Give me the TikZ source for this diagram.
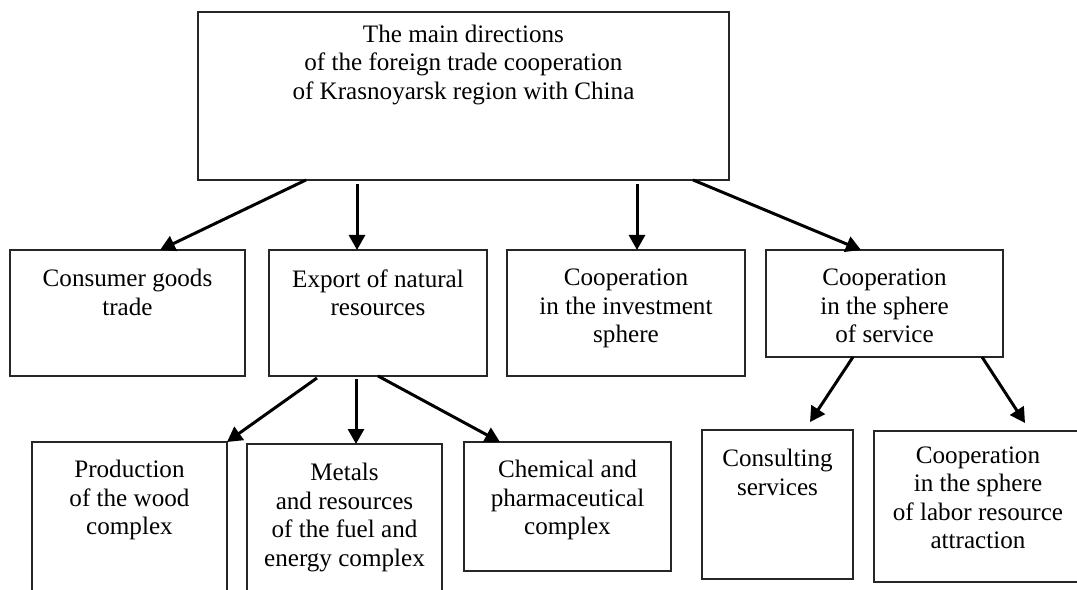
\documentclass[tikz,border=0pt]{standalone}
\usepackage{fontspec}
\setmainfont{Liberation Serif}
\usetikzlibrary{arrows.meta, positioning, calc}
\tikzset{
  block/.style={rectangle, draw=black!85, line width=0.8pt,
                anchor=north west, inner sep=0pt, outer sep=0pt},
  blocktext/.style={align=center, inner sep=0pt,
                    font=\fontsize{14.3}{16.2}\selectfont},
  arrow/.style={-{Triangle[length=3mm, width=3.2mm]}, line width=1.7pt}
}

\begin{document}
\begin{tikzpicture}[x=0.02cm, y=-0.02cm]
\clip (0,0) rectangle (1077,590);
\fill[white] (0,0) rectangle (1077,590);

% Row 1: main box
\node[block, minimum width=10.62cm, minimum height=3.36cm] (Main) at (198,12) {};
\node[blocktext, below=0.25cm of Main.north] (MainText) {The main directions\\of the foreign trade cooperation\\of Krasnoyarsk region with China};

% Row 2: directions
\node[block, minimum width=4.7cm, minimum height=2.52cm] (Consumer) at (10,250) {};
\node[blocktext, below=0.38cm of Consumer.north] (ConsumerText) {Consumer goods\\trade};
\node[block, minimum width=4.36cm, minimum height=2.52cm] (Export) at (269,250) {};
\node[blocktext, below=0.38cm of Export.north] (ExportText) {Export of natural\\resources};
\node[block, minimum width=4.76cm, minimum height=2.52cm] (Investment) at (507,250) {};
\node[blocktext, below=0.38cm of Investment.north] (InvestmentText) {Cooperation\\in the investment\\sphere};
\node[block, minimum width=4.74cm, minimum height=2.14cm] (Service) at (766,250) {};
\node[blocktext, below=0.38cm of Service.north] (ServiceText) {Cooperation\\in the sphere\\of service};

% Row 3: natural resources
\node[block, minimum width=3.9cm, minimum height=3.6cm] (Wood) at (32,442) {};
\node[blocktext, below=0.36cm of Wood.north] (WoodText) {Production\\of the wood\\complex};
\node[block, minimum width=3.9cm, minimum height=3.6cm] (Metals) at (247,444) {};
\node[blocktext, below=0.38cm of Metals.north] (MetalsText) {Metals\\and resources\\of the fuel and\\energy complex};
\node[block, minimum width=4.14cm, minimum height=2.58cm] (Chemical) at (464,442) {};
\node[blocktext, below=0.36cm of Chemical.north] (ChemicalText) {Chemical and\\pharmaceutical\\complex};

% Row 3: services
\node[block, minimum width=3.02cm, minimum height=2.98cm] (Consulting) at (702,430) {};
\node[blocktext, below=0.38cm of Consulting.north] (ConsultingText) {Consulting\\services};
\node[block, minimum width=4.16cm, minimum height=3.02cm] (Labor) at (874,431) {};
\node[blocktext, below=0.31cm of Labor.north] (LaborText) {Cooperation\\in the sphere\\of labor resource\\attraction};

% --- Connections ---
% Main -> directions
\draw[arrow] ($(Main.south west)+(108,0)$) -- ($(Consumer.north west)+(150,0)$);
\draw[arrow] ($(Main.south west)+(159,4)$) -- ($(Export.north west)+(88,0)$);
\draw[arrow] ($(Main.south west)+(439,4)$) -- ($(Investment.north west)+(130,0)$);
\draw[arrow] ($(Main.south west)+(495,0)$) -- ($(Service.north west)+(95,0)$);

% Export -> resources
\draw[arrow] ($(Export.south west)+(48,2)$) -- (Wood.north east);
\draw[arrow] ($(Export.south west)+(87,3)$) -- ($(Metals.north west)+(109,0)$);
\draw[arrow] ($(Export.south west)+(109,0)$) -- ($(Chemical.north west)+(36,0)$);

% Service -> services
\draw[arrow] ($(Service.south west)+(87,0)$) -- ($(Consulting.north west)+(108,-8)$);
\draw[arrow] ($(Service.south west)+(216,0)$) -- ($(Labor.north west)+(151,-8)$);

\end{tikzpicture}
\end{document}
